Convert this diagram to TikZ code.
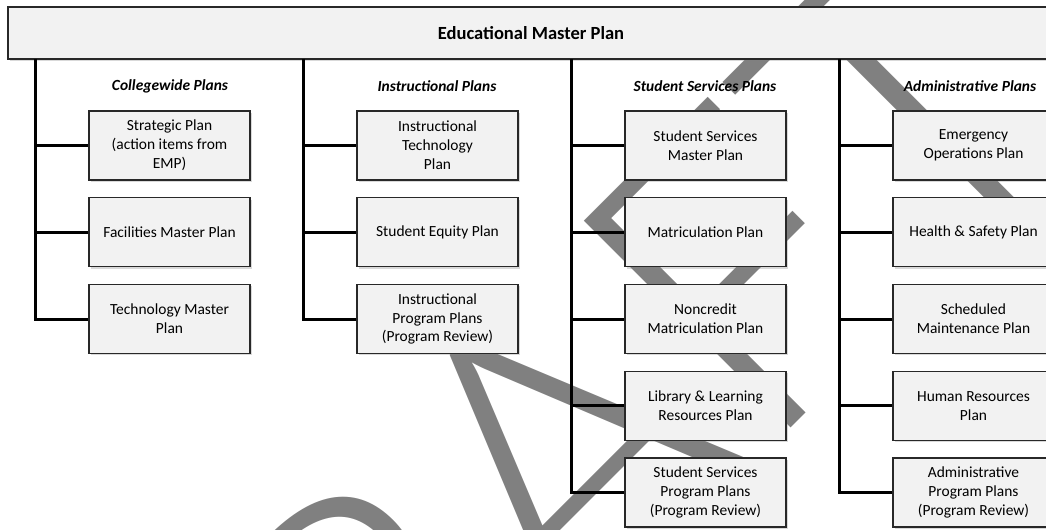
\documentclass[tikz,border=0pt]{standalone}
\usepackage{fontspec}
\setmainfont{Carlito}
\IfFontExistsTF{Lato Light}{\newfontfamily\draftfont{Lato Light}}{\newfontfamily\draftfont{Carlito}}
\usetikzlibrary{shadows}
\definecolor{boxfill}{RGB}{242,242,242}
\definecolor{boxline}{RGB}{40,40,40}
\definecolor{markgray}{RGB}{128,128,128}
\tikzset{
  planbox/.style={draw=boxline, line width=0.9pt, fill=boxfill, align=center,
    minimum width=120.75pt, minimum height=51.75pt, inner sep=2pt,
    font=\fontsize{11.6}{14.2}\selectfont,
    drop shadow={shadow xshift=1.4pt, shadow yshift=-1.4pt, opacity=0.3}},
  mainbox/.style={planbox, minimum width=784.5pt, minimum height=39pt,
    font=\fontsize{13.9}{16}\selectfont\bfseries},
  heading/.style={font=\fontsize{11.6}{14.2}\selectfont\bfseries\itshape},
  link/.style={line width=2.25pt},
}

\begin{document}
\begin{tikzpicture}[x=0.75pt,y=-0.75pt]
  \useasboundingbox (0,0) rectangle (1046,529);
  \clip (0,0) rectangle (1046,529);

  % watermark
  \node[text=markgray, font=\draftfont\fontsize{310}{310}\selectfont,
    rotate=45, anchor=base, inner sep=0pt] (draft) at (632,587) {DRAFT};

  \node[mainbox] (emp) at (531,33) {Educational Master Plan};

  % column headings
  \node[heading] (hcoll) at (170,86) {Collegewide Plans};
  \node[heading] (hinst) at (437,86) {Instructional Plans};
  \node[heading] (hstud) at (705,86) {Student Services Plans};
  \node[heading] (hadmn) at (970,86) {Administrative Plans};

  % collegewide
  \node[planbox] (coll1) at (169.5,145.5) {Strategic Plan\\(action items from\\EMP)};
  \node[planbox] (coll2) at (169.5,232.25) {Facilities Master Plan};
  \node[planbox] (coll3) at (169.5,319) {Technology Master\\Plan};

  % instructional
  \node[planbox] (inst1) at (437.5,145.5) {Instructional\\Technology\\Plan};
  \node[planbox] (inst2) at (437.5,232.25) {Student Equity Plan};
  \node[planbox] (inst3) at (437.5,319) {Instructional\\Program Plans\\(Program Review)};

  % student services
  \node[planbox] (stud1) at (705.5,145.5) {Student Services\\Master Plan};
  \node[planbox] (stud2) at (705.5,232.25) {Matriculation Plan};
  \node[planbox] (stud3) at (705.5,319) {Noncredit\\Matriculation Plan};
  \node[planbox] (stud4) at (705.5,405.75) {Library \& Learning\\Resources Plan};
  \node[planbox] (stud5) at (705.5,492.5) {Student Services\\Program Plans\\(Program Review)};

  % administrative
  \node[planbox] (admn1) at (973.5,145.5) {Emergency\\Operations Plan};
  \node[planbox] (admn2) at (973.5,232.25) {Health \& Safety Plan};
  \node[planbox] (admn3) at (973.5,319) {Scheduled\\Maintenance Plan};
  \node[planbox] (admn4) at (973.5,405.75) {Human Resources\\Plan};
  \node[planbox] (admn5) at (973.5,492.5) {Administrative\\Program Plans\\(Program Review)};

  % trunks
  \coordinate (colltop) at (35,59);
  \coordinate (insttop) at (303,59);
  \coordinate (studtop) at (571,59);
  \coordinate (admntop) at (839,59);
  \foreach \c/\n in {coll/3,inst/3,stud/5,admn/5}{
    \foreach \i in {1,...,\n}
      \draw[link] (\c top) |- (\c\i.west);
  }
\end{tikzpicture}
\end{document}
